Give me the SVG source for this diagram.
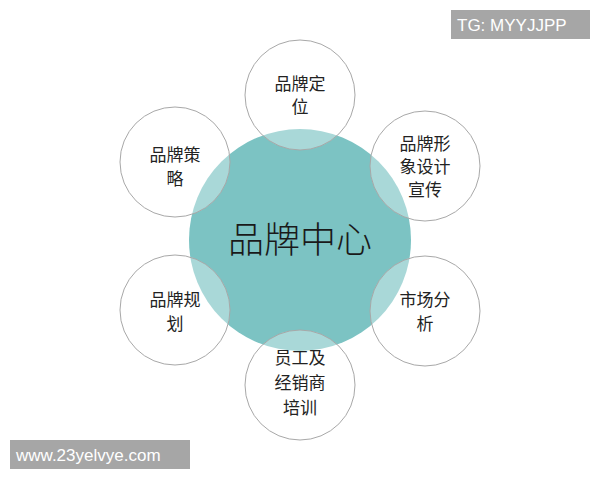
<svg xmlns="http://www.w3.org/2000/svg" width="600" height="480" viewBox="0 0 600 480">
<style>
.sat{fill:#ffffff;fill-opacity:0.35;stroke:#a8a8a8;stroke-width:1}
.t{font-family:"Noto Sans CJK SC","Noto Sans",sans-serif;font-size:17px;fill:#222;text-anchor:middle}
.c{font-family:"Noto Sans CJK SC","Noto Sans",sans-serif;font-size:36px;font-weight:300;fill:#1a1a1a;text-anchor:middle}
.wm{font-family:"Liberation Sans",Arial,sans-serif;font-size:17px;fill:#ffffff}
</style>
<rect width="600" height="480" fill="#ffffff"/>
<g id="center">
<circle cx="300" cy="240" r="111" fill="#7cc3c3"/>
<text class="c" x="300" y="253">品牌中心</text>
</g>
<g id="connectors"></g>
<g id="top">
<circle class="sat" cx="300" cy="95" r="55"/>
<text class="t" x="300" y="90">品牌定</text>
<text class="t" x="300" y="113">位</text>
</g>
<g id="upper-right">
<circle class="sat" cx="425" cy="166" r="55"/>
<text class="t" x="425" y="150">品牌形</text>
<text class="t" x="425" y="173">象设计</text>
<text class="t" x="425" y="196">宣传</text>
</g>
<g id="upper-left">
<circle class="sat" cx="175" cy="162" r="55"/>
<text class="t" x="175" y="161">品牌策</text>
<text class="t" x="175" y="185">略</text>
</g>
<g id="lower-left">
<circle class="sat" cx="175" cy="310" r="55"/>
<text class="t" x="175" y="306">品牌规</text>
<text class="t" x="175" y="330">划</text>
</g>
<g id="lower-right">
<circle class="sat" cx="425" cy="311" r="55"/>
<text class="t" x="425" y="306">市场分</text>
<text class="t" x="425" y="330">析</text>
</g>
<g id="bottom">
<circle class="sat" cx="300" cy="385" r="55"/>
<text class="t" x="300" y="364">员工及</text>
<text class="t" x="300" y="389">经销商</text>
<text class="t" x="300" y="414">培训</text>
</g>
<g id="watermarks">
<rect x="451" y="10" width="139" height="29" fill="#a6a6a6"/>
<text class="wm" x="457" y="31">TG: MYYJJPP</text>
<rect x="10" y="440" width="180" height="29" fill="#a6a6a6"/>
<text class="wm" x="16" y="461">www.23yelvye.com</text>
</g>
</svg>
